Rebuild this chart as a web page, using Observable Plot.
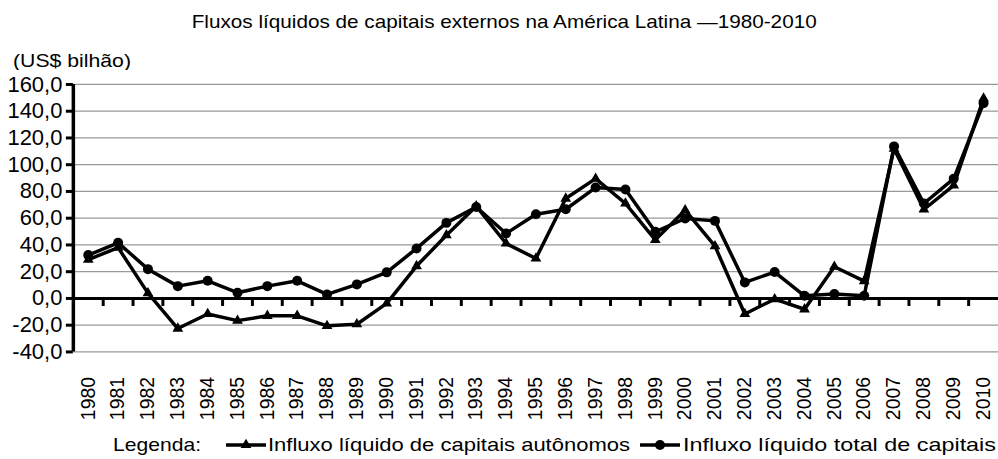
<!DOCTYPE html>
<html><head><meta charset="utf-8">
<script src="https://cdn.jsdelivr.net/npm/d3@7"></script>
<script src="https://cdn.jsdelivr.net/npm/@observablehq/plot@0.6"></script>
<style>
body{margin:0;background:#fff;width:998px;height:459px;overflow:hidden;font-family:"Liberation Sans",Arial,sans-serif;}
#wrap{width:998px;overflow:hidden;}
svg{display:block;}
[aria-label^="y-axis"] line, [aria-label="y-axis tick"] path{stroke-width:3px;stroke:#000;}
</style></head><body>
<div id="wrap"></div>
<script>
const titleText = "Fluxos líquidos de capitais externos na América Latina —1980-2010";
const unitText = "(US$ bilhão)";
const legendTitle = "Legenda:";
const seriesNames = ["Influxo líquido de capitais autônomos", "Influxo líquido total de capitais"];
const years = [1980,1981,1982,1983,1984,1985,1986,1987,1988,1989,1990,1991,1992,1993,1994,1995,1996,1997,1998,1999,2000,2001,2002,2003,2004,2005,2006,2007,2008,2009,2010];
const autonomos = [29,38,4,-22.5,-11.6,-16.6,-13,-13,-20.5,-19.3,-3.7,24.2,47.3,69,41.1,29.9,74.7,89.6,71,43.8,66,39.1,-11.6,-0.5,-8.1,23.7,13,112,66.5,84.6,149.5];
const total = [32.4,41.6,21.9,9.2,13.2,4.3,9.2,13.2,3,10.5,19.5,37.4,56.5,68.4,48.6,63,66.7,82.9,81.4,49.8,59.8,58,12,19.7,2,3.3,2,113.7,71,89.6,146];
const yTicks = [-40,-20,0,20,40,60,80,100,120,140,160];

const NS = "http://www.w3.org/2000/svg";
function el(tag, attrs, parent){const e=document.createElementNS(NS,tag);for(const k in attrs)e.setAttribute(k,attrs[k]);if(parent)parent.appendChild(e);return e;}
const wrap = document.getElementById("wrap");
const ff = "Liberation Sans, Arial, sans-serif";

// Header: title + unit label
const head = el("svg",{width:998,height:70,viewBox:"0 0 998 70"});
wrap.appendChild(head);
const t1 = el("text",{x:191.7,y:28.3,"font-size":19,fill:"#000",textLength:625,lengthAdjust:"spacingAndGlyphs","font-family":ff},head);
t1.textContent = titleText;
const t2 = el("text",{x:13,y:66.7,"font-size":19,fill:"#000",textLength:118,lengthAdjust:"spacingAndGlyphs","font-family":ff},head);
t2.textContent = unitText;

const dataA = years.map((y,i)=>({year:y,value:autonomos[i]}));
const dataT = years.map((y,i)=>({year:y,value:total[i]}));
const boundaries = years.slice(0,-1).map(y=>y+0.5);
const x0 = years[0]-0.5, x1 = years[years.length-1]+0.5;

const plot = Plot.plot({
  width:1000, height:350,
  marginTop:14, marginBottom:68, marginLeft:73, marginRight:0,
  style:{fontFamily:"'Liberation Sans', Arial, sans-serif", fontSize:"22px", color:"#000", background:"transparent", overflow:"visible"},
  x:{domain:[x0,x1], ticks:years, tickFormat:d=>String(d), tickRotate:-90, tickSize:0, tickPadding:25, label:null},
  y:{domain:[-40,160], ticks:yTicks, tickFormat:d=>d.toFixed(1).replace(".",","), tickSize:7, tickPadding:4, label:null},
  marks:[
    Plot.ruleY(yTicks.filter(v=>v!==0),{stroke:"#999",strokeWidth:1.3}),
    Plot.ruleY([0],{stroke:"#000",strokeWidth:3}),
    Plot.ruleX(boundaries,{y1:0,y2:-6,stroke:"#000",strokeWidth:3}),
    Plot.ruleX([x0],{y1:-40,y2:160,stroke:"#000",strokeWidth:3.5}),
    Plot.line(dataA,{x:"year",y:"value",stroke:"#000",strokeWidth:3.5}),
    Plot.dot(dataA,{x:"year",y:"value",symbol:"triangle",r:4,fill:"#000",stroke:"none"}),
    Plot.line(dataT,{x:"year",y:"value",stroke:"#000",strokeWidth:3.5}),
    Plot.dot(dataT,{x:"year",y:"value",symbol:"circle",r:5,fill:"#000",stroke:"none"})
  ]
});
wrap.appendChild(plot);
plot.querySelectorAll("text").forEach(t=>{ if(/^\d{4}$/.test(t.textContent.trim())) { t.setAttribute("font-size","19.5px"); t.style.fontSize="19.5px"; } });

// Legend
const leg = el("svg",{width:998,height:39,viewBox:"0 0 998 39"});
wrap.appendChild(leg);
const lt = el("text",{x:113,y:32,"font-size":19,fill:"#000",textLength:88,lengthAdjust:"spacingAndGlyphs","font-family":ff},leg);
lt.textContent = legendTitle;
el("line",{x1:226,x2:266,y1:26,y2:26,stroke:"#000","stroke-width":3.5},leg);
el("path",{d:d3.symbol(d3.symbolTriangle, Math.PI*16)(),transform:"translate(246,26)",fill:"#000"},leg);
const l1 = el("text",{x:268,y:32,"font-size":19,fill:"#000",textLength:362,lengthAdjust:"spacingAndGlyphs","font-family":ff},leg);
l1.textContent = seriesNames[0];
el("line",{x1:640,x2:680,y1:26,y2:26,stroke:"#000","stroke-width":3.5},leg);
el("circle",{cx:660,cy:26,r:5,fill:"#000"},leg);
const l2 = el("text",{x:683,y:32,"font-size":19,fill:"#000",textLength:313,lengthAdjust:"spacingAndGlyphs","font-family":ff},leg);
l2.textContent = seriesNames[1];
</script>
</body></html>
